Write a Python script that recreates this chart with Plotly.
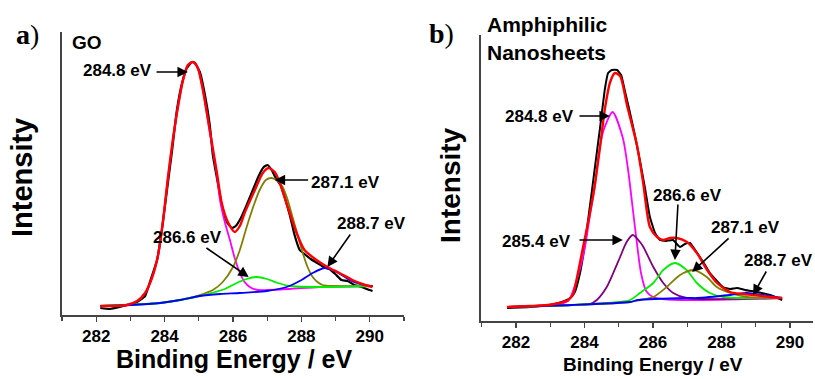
import plotly.graph_objects as go

# ---------------- Panel a) GO ----------------
a_raw_E = [282.12, 282.41, 282.90, 283.14, 283.43, 283.57, 283.78, 283.92, 284.07, 284.22, 284.36, 284.51,
           284.65, 284.80, 284.89, 285.03, 285.18, 285.32, 285.41, 285.53, 285.67, 285.82, 285.97, 286.08,
           286.23, 286.40, 286.58, 286.75, 286.90, 287.01, 287.13, 287.25, 287.39, 287.51, 287.66, 287.80,
           287.95, 288.09, 288.27, 288.47, 288.65, 288.82, 288.99, 289.17, 289.35, 289.55, 289.76, 289.99, 290.08]
a_raw_I = [7, 6, 10, 12, 19, 33, 55, 85, 125, 165, 205, 232,
           247, 253, 252, 243, 220, 190, 160, 137, 110, 93, 87, 89,
           97, 110, 125, 139, 148, 150, 145, 137, 130, 118, 100, 80,
           65, 61, 56, 52, 48, 46, 41, 35, 34, 30, 28, 25, 24]

a_fit_E = [282.12, 282.55, 282.90, 283.20, 283.43, 283.63, 283.81, 283.95, 284.10, 284.24, 284.39, 284.54,
           284.68, 284.83, 284.97, 285.12, 285.32, 285.53, 285.67, 285.85, 286.05, 286.20, 286.34, 286.64,
           286.87, 287.04, 287.22, 287.36, 287.60, 287.86, 288.09, 288.44, 288.76, 289.11, 289.49, 289.78, 290.08]
a_fit_I = [9, 9, 10, 14, 22, 37, 60, 93, 138, 175, 208, 235,
           250, 253, 247, 225, 185, 142, 112, 93, 83, 89, 102, 125,
           142, 147, 143, 133, 108, 82, 65, 55, 48, 42, 35, 31, 28]

a_p1_E = [282.12, 282.55, 282.90, 283.20, 283.43, 283.63, 283.81, 283.95, 284.10, 284.24, 284.39, 284.54,
          284.68, 284.83, 284.97, 285.12, 285.32, 285.53, 285.62, 285.76, 285.91, 286.05, 286.20, 286.34,
          286.49, 286.72, 286.99, 287.66, 288.53, 290.08]
a_p1_I = [9, 9, 10, 14, 22, 37, 60, 93, 138, 175, 208, 235,
          250, 253, 247, 225, 183, 140, 115, 93, 75, 57, 42, 33,
          28, 25, 25, 26, 28, 29]

a_p2_E = [282.12, 283.87, 284.45, 285.03, 285.47, 285.76, 286.11, 286.40, 286.69, 286.99, 287.31, 287.66, 288.53, 290.08]
a_p2_I = [9, 12, 15, 19, 23, 26, 32, 36, 38, 36, 32, 29, 28, 29]

a_p3_E = [282.12, 283.87, 284.59, 285.03, 285.41, 285.70, 286.00, 286.20, 286.40, 286.61, 286.78, 286.96,
          287.13, 287.31, 287.45, 287.60, 287.74, 287.89, 288.04, 288.18, 288.33, 288.47, 288.62, 288.91, 290.08]
a_p3_I = [9, 12, 16, 20, 25, 33, 48, 65, 88, 110, 125, 135,
          137, 134, 128, 115, 98, 80, 62, 48, 38, 33, 30, 29, 29]

a_p4_E = [282.12, 282.99, 283.87, 284.45, 285.03, 285.62, 286.20, 286.99, 287.57, 287.95, 288.33, 288.68,
          289.03, 289.41, 289.70, 290.08]
a_p4_I = [9, 10, 12, 15, 19, 21, 22, 24, 28, 34, 42, 47,
          43, 35, 31, 29]

# ---------------- Panel b) Amphiphilic Nanosheets ----------------
b_raw_E = [281.74, 282.41, 282.99, 283.34, 283.58, 283.72, 283.87, 284.01, 284.16, 284.31, 284.45, 284.60,
           284.69, 284.80, 284.95, 285.07, 285.18, 285.33, 285.47, 285.62, 285.77, 285.91, 286.06, 286.20,
           286.38, 286.58, 286.79, 286.93, 287.08, 287.23, 287.37, 287.52, 287.66, 287.84, 288.04, 288.25,
           288.45, 288.69, 289.04, 289.42, 289.77]
b_raw_I = [13, 14, 16, 19, 23, 29, 48, 76, 115, 155, 192, 233,
           248, 251, 251, 246, 230, 208, 186, 160, 132, 104, 88, 81,
           80, 81, 74, 77, 78, 71, 64, 56, 48, 41, 34, 32,
           33, 31, 29, 26, 21]

b_fit_E = [281.74, 282.41, 282.93, 283.28, 283.52, 283.66, 283.78, 283.96, 284.16, 284.31, 284.45, 284.60,
           284.75, 284.89, 285.04, 285.24, 285.53, 285.71, 285.91, 286.12, 286.29, 286.50, 286.70, 286.99,
           287.28, 287.58, 287.87, 288.25, 288.60, 288.92, 289.42, 289.77]
b_fit_I = [14, 15, 16, 18, 21, 26, 43, 74, 108, 138, 173, 213,
           239, 248, 245, 216, 176, 139, 94, 84, 81, 83, 83, 79,
           68, 51, 38, 29, 27, 26, 24, 23]

b_p1_E = [281.74, 283.05, 283.52, 283.78, 284.01, 284.16, 284.31, 284.40, 284.55, 284.82, 285.12, 285.27,
          285.40, 285.53, 285.65, 285.80, 286.00, 286.30, 287.08, 289.77]
b_p1_I = [14, 16, 20, 42, 73, 106, 136, 163, 190, 209, 183, 152,
          115, 78, 48, 30, 24, 22, 21, 23]

b_p2_E = [281.74, 283.63, 284.16, 284.36, 284.65, 284.84, 285.04, 285.23, 285.41, 285.62, 285.72, 286.01,
          286.30, 286.59, 286.98, 289.77]
b_p2_I = [14, 16, 17, 21, 34, 48, 64, 79, 86, 79, 74, 54,
          38, 28, 23, 23]

b_p3_E = [281.74, 283.63, 285.00, 285.33, 285.62, 286.01, 286.30, 286.64, 286.98, 287.28, 287.66, 288.05, 289.76]
b_p3_I = [14, 16, 19, 21, 28, 38, 51, 58, 51, 38, 28, 24, 23]

b_p4_E = [281.74, 283.63, 285.33, 285.62, 286.01, 286.40, 286.79, 287.18, 287.57, 287.86, 288.25, 288.74, 289.76]
b_p4_I = [14, 16, 19, 21, 24, 34, 46, 51, 44, 34, 28, 24, 23]

b_p5_E = [281.78, 283.63, 285.33, 285.57, 287.03, 287.28, 288.25, 288.74, 289.22, 289.76]
b_p5_I = [14, 16, 19, 21, 23, 23, 26, 28, 26, 23]

tick_vals = [282, 284, 286, 288, 290]
tick_text = ["282", "284", "286", "288", "290"]

FONT = "Liberation Sans, Arial, sans-serif"

fig = go.Figure()

def add_line(xs, ys, color, width, xa, ya, smooth=0.7):
    fig.add_trace(go.Scatter(x=xs, y=ys, mode="lines", xaxis=xa, yaxis=ya,
                             line=dict(color=color, width=width, shape="spline", smoothing=smooth),
                             showlegend=False, hoverinfo="skip"))

# panel a
add_line(a_raw_E, a_raw_I, "black", 2.2, "x", "y", 0.4)
add_line(a_p1_E, a_p1_I, "#ff00ff", 1.8, "x", "y")
add_line(a_p3_E, a_p3_I, "#808000", 1.8, "x", "y")
add_line(a_p2_E, a_p2_I, "#00ee00", 1.8, "x", "y")
add_line(a_p4_E, a_p4_I, "#0000ff", 1.8, "x", "y")
add_line(a_fit_E, a_fit_I, "#ff0000", 2.4, "x", "y")

# panel b
add_line(b_raw_E, b_raw_I, "black", 2.0, "x2", "y2", 0.4)
add_line(b_p1_E, b_p1_I, "#ff00ff", 1.8, "x2", "y2")
add_line(b_p2_E, b_p2_I, "#800080", 1.8, "x2", "y2")
add_line(b_p3_E, b_p3_I, "#00ee00", 1.8, "x2", "y2")
add_line(b_p4_E, b_p4_I, "#808000", 1.8, "x2", "y2")
add_line(b_p5_E, b_p5_I, "#0000ff", 1.8, "x2", "y2")
add_line(b_fit_E, b_fit_I, "#ff0000", 2.4, "x2", "y2")

xcommon = dict(showline=True, linecolor="#444", linewidth=1.6, ticks="outside", ticklen=5,
               tickwidth=1.2, tickcolor="#444", tickvals=tick_vals, ticktext=tick_text,
               showgrid=False, zeroline=False,
               tickfont=dict(family=FONT, size=17, color="black", weight="bold"),
               minor=dict(tickvals=[281, 283, 285, 287, 289, 291], ticks="outside", ticklen=4,
                          tickwidth=1.2, tickcolor="#444", showgrid=False))
ycommon = dict(showline=True, linecolor="#444", linewidth=1.6, ticks="", showticklabels=False,
               showgrid=False, zeroline=False)

fig.update_layout(
    width=815, height=379, margin=dict(l=0, r=0, t=0, b=0),
    paper_bgcolor="white", plot_bgcolor="white",
    xaxis=dict(domain=[62/815, 404/815], range=[281.0, 291.0], anchor="y", **xcommon),
    yaxis=dict(domain=[1-315/379, 1-32/379], range=[0, 283], anchor="x", **ycommon),
    xaxis2=dict(domain=[481/815, 813/815], range=[280.98, 290.67], anchor="y2", **xcommon),
    yaxis2=dict(domain=[1-321/379, 1-35/379], range=[0, 286], anchor="x2", **ycommon),
)

ann = []
def txt(text, x, y, size, xref="paper", yref="paper", angle=0, family=FONT, xanchor="center"):
    ann.append(dict(text=text, x=x, y=y, xref=xref, yref=yref, showarrow=False, textangle=angle,
                    xanchor=xanchor, yanchor="middle",
                    font=dict(family=family, size=size, color="black")))

def arrow(xh, yh, xt, yt, xr, yr):
    ann.append(dict(text="", x=xh, y=yh, ax=xt, ay=yt, xref=xr, yref=yr, axref=xr, ayref=yr,
                    showarrow=True, arrowhead=2, arrowsize=1.3, arrowwidth=1.6, arrowcolor="black",
                    standoff=0, startstandoff=0))

# axis titles
txt("<b>Binding Energy / eV</b>", 234/815, 1-359/379, 25)
txt("<b>Intensity</b>", 22/815, 1-178/379, 29, angle=-90)
txt("<b>Binding Energy / eV</b>", 653/815, 1-364/379, 19)
txt("<b>Intensity</b>", 450/815, 1-185/379, 28, angle=-90)

# panel labels
txt("<b>a</b>)", 27/815, 1-35/379, 28, family="Liberation Serif, Times New Roman, serif")
txt("<b>b</b>)", 441/815, 1-33/379, 28, family="Liberation Serif, Times New Roman, serif")
txt("<b>GO</b>", 70/815, 1-42/379, 19, xanchor="left")
txt("<b>Amphiphilic</b>", 485/815, 1-24/379, 21, xanchor="left")
txt("<b>Nanosheets</b>", 485/815, 1-53/379, 21, xanchor="left")

# panel a peak labels
txt("<b>284.8 eV</b>", 282.61, 244, 17, "x", "y")
arrow(284.68, 243, 283.72, 243, "x", "y")
txt("<b>287.1 eV</b>", 289.29, 133, 17, "x", "y")
arrow(287.22, 135, 288.24, 135, "x", "y")
txt("<b>286.6 eV</b>", 284.68, 78, 17, "x", "y")
arrow(286.46, 38, 285.18, 68, "x", "y")
txt("<b>288.7 eV</b>", 290.05, 92, 17, "x", "y")
arrow(288.76, 48, 289.46, 82, "x", "y")

# panel b peak labels
txt("<b>284.8 eV</b>", 282.70, 204, 17, "x2", "y2")
arrow(284.74, 205, 283.81, 205, "x2", "y2")
txt("<b>285.4 eV</b>", 282.61, 80, 17, "x2", "y2")
arrow(285.12, 81, 283.81, 81, "x2", "y2")
txt("<b>286.6 eV</b>", 287.02, 126, 17, "x2", "y2")
arrow(286.64, 61, 286.73, 118, "x2", "y2")
txt("<b>287.1 eV</b>", 288.69, 94, 17, "x2", "y2")
arrow(287.14, 49, 288.25, 84, "x2", "y2")
txt("<b>288.7 eV</b>", 289.65, 61, 17, "x2", "y2")
arrow(288.92, 26, 289.33, 51, "x2", "y2")

fig.update_layout(annotations=ann)
fig.write_html("out.html", config={"displayModeBar": False, "staticPlot": True})

# remove the default page margin so the figure sits at the window's top-left corner
with open("out.html", "r", encoding="utf-8") as f:
    html = f.read()
html = html.replace("<head>", "<head><style>html,body{margin:0;padding:0;overflow:hidden;}</style>", 1)
with open("out.html", "w", encoding="utf-8") as f:
    f.write(html)
